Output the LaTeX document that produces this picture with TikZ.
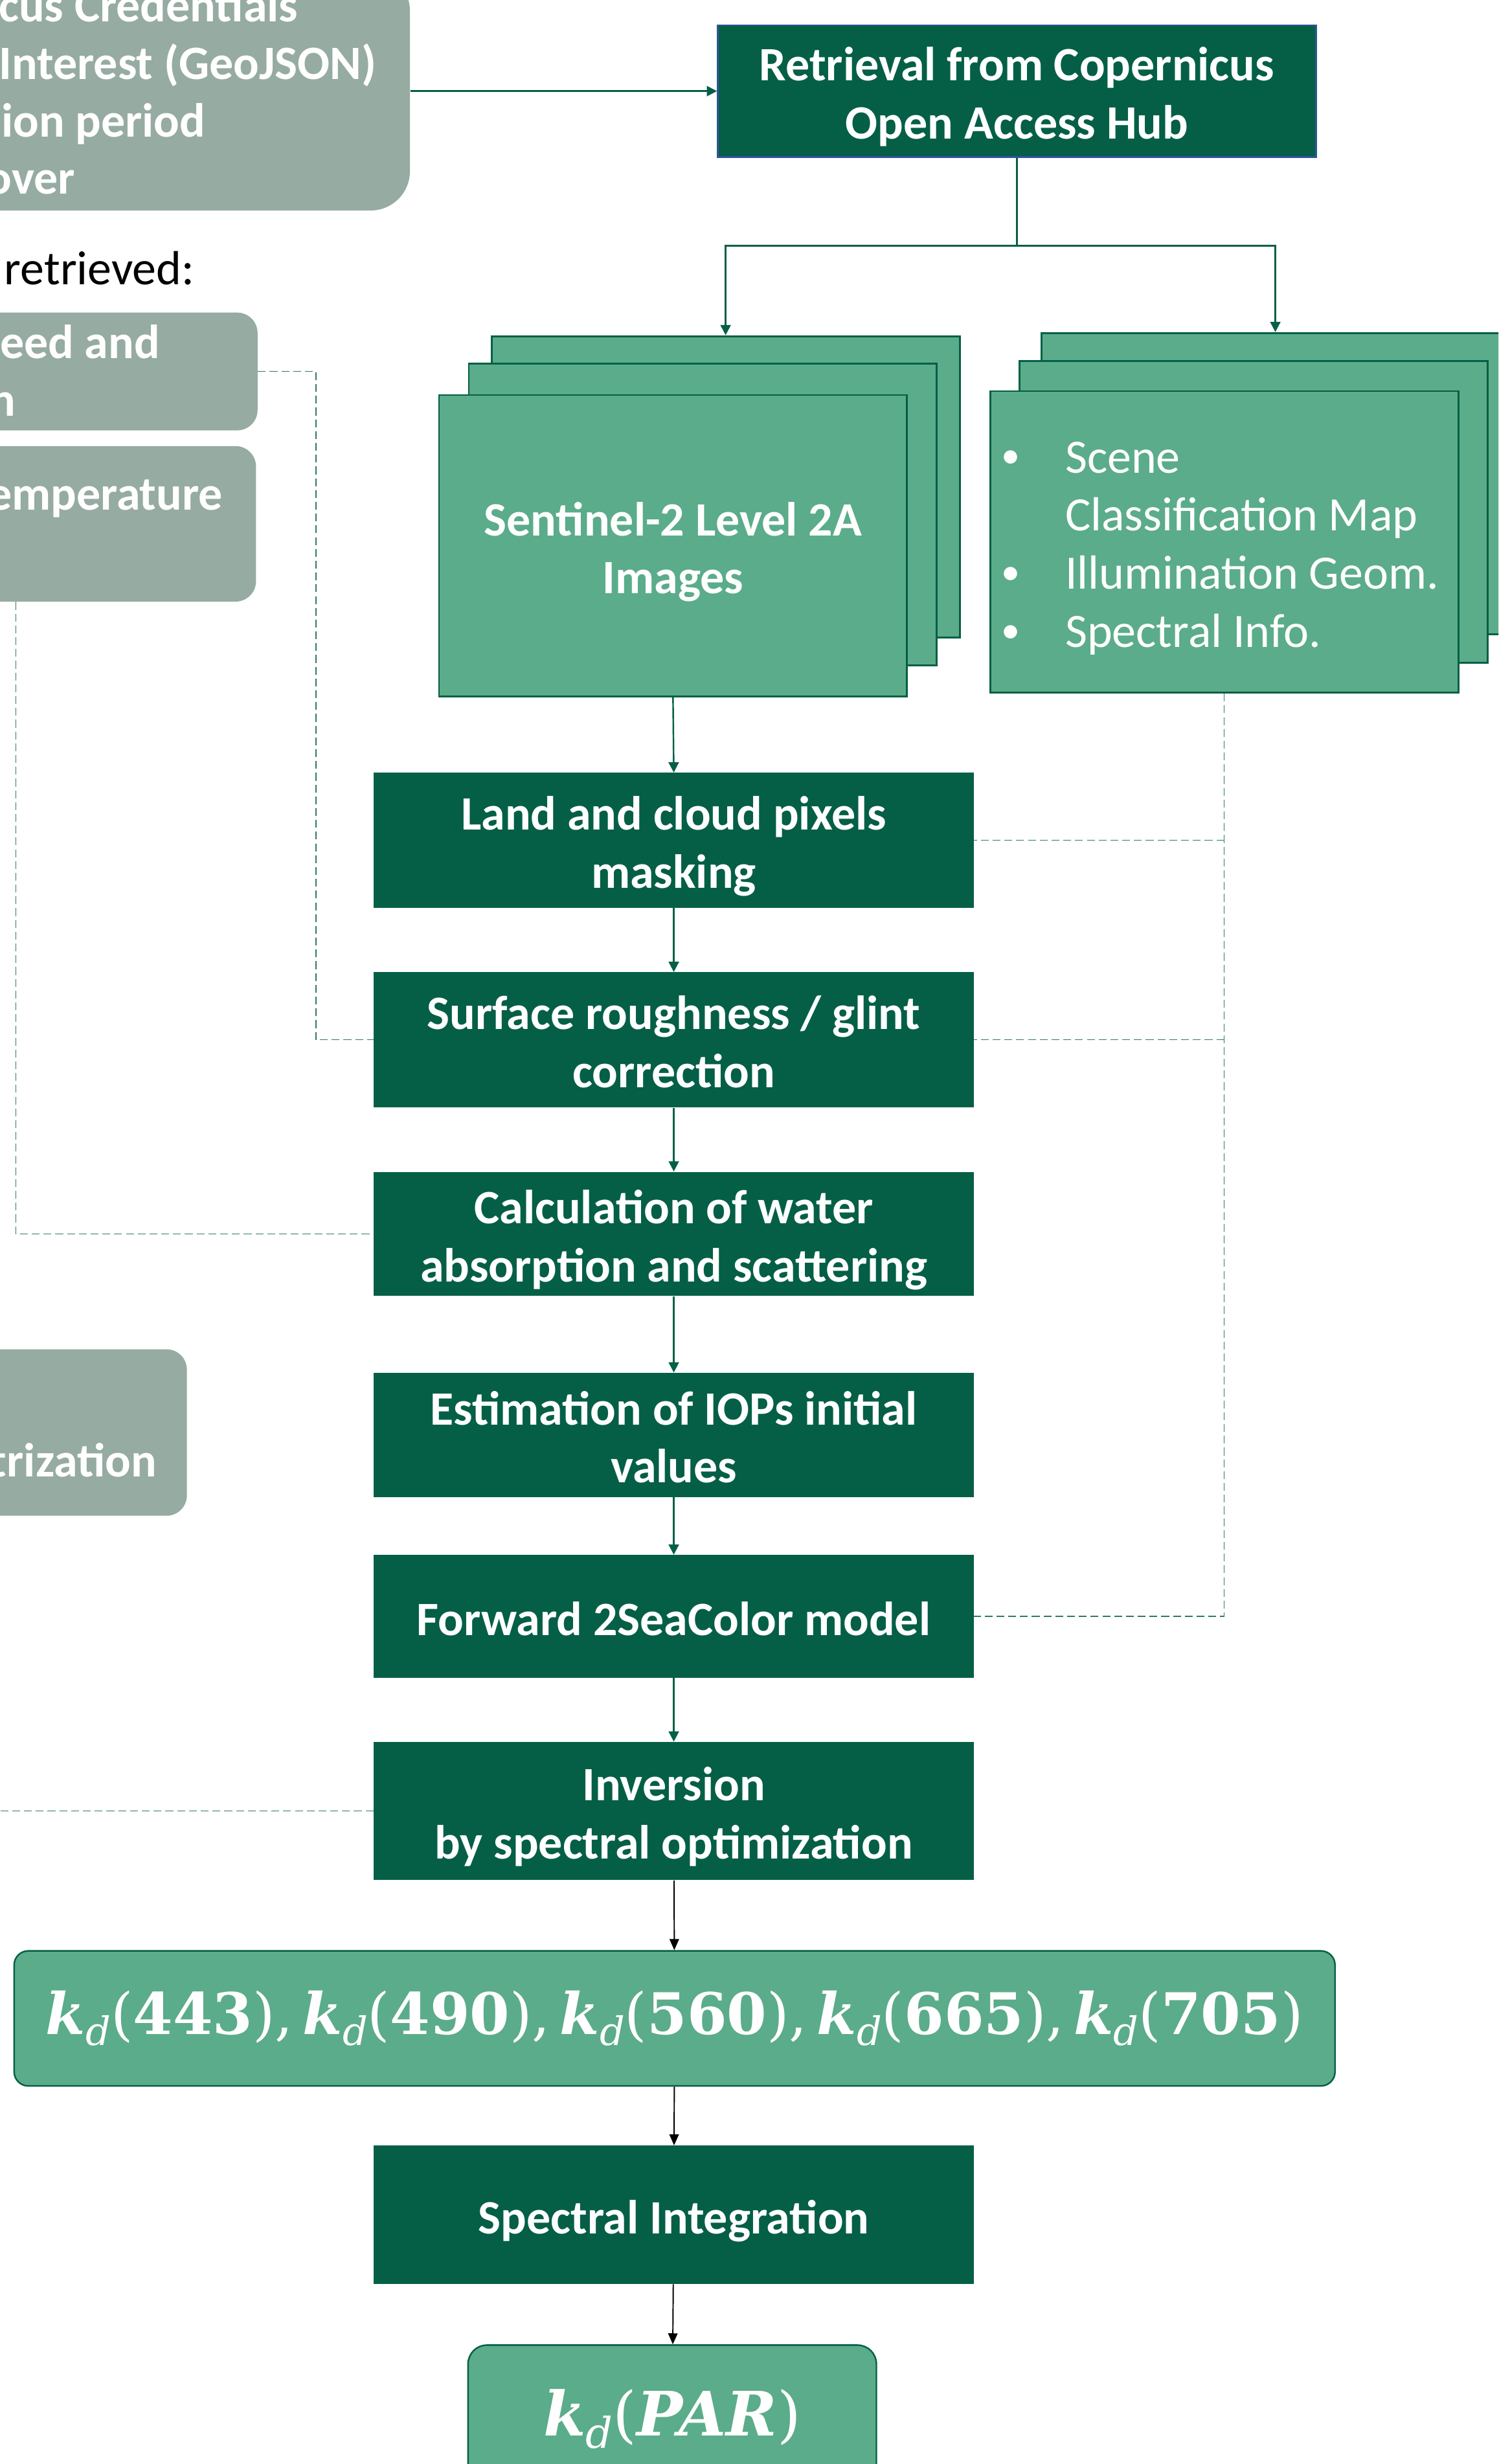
\documentclass[tikz,border=0pt]{standalone}
\usepackage[no-math]{fontspec}
\setmainfont{Carlito}
\newfontfamily\frmfont{DejaVu Serif}
\usetikzlibrary{arrows.meta,calc}
\definecolor{dkgreen}{HTML}{045F46}
\definecolor{mdgreen}{HTML}{5BAC8A}
\definecolor{grayg}{HTML}{96ABA1}
\definecolor{hubborder}{HTML}{2F5597}
\definecolor{dashc}{HTML}{2E7A62}
% struts that give every box text the same vertical metrics
\newcommand{\topstrut}{\rule{0pt}{32pt}}
\newcommand{\botstrut}{\rule[-8pt]{0pt}{0pt}}
\newcommand{\twol}[2]{\topstrut#1\\#2\botstrut}
\newcommand{\onel}[1]{\topstrut#1\botstrut}
% k_d written with text fonts: #1 = size of the subscript, #2 = its drop
\newcommand{\kdsym}[2]{{\bfseries\itshape k}\raisebox{-#2}{\fontsize{#1}{#1}\selectfont\itshape d}}
\newcommand{\kdseries}{\frmfont\fontsize{36.5}{44}\selectfont
  \kdsym{25}{7pt}(\textbf{443}),\,\kdsym{25}{7pt}(\textbf{490}),\,\kdsym{25}{7pt}(\textbf{560}),\,\kdsym{25}{7pt}(\textbf{665}),\,\kdsym{25}{7pt}(\textbf{705})}
\newcommand{\kdparfrm}{\frmfont\fontsize{39}{46}\selectfont \kdsym{27}{8pt}(\textbf{\textit{PAR}})}
\tikzset{
  mainbox/.style={rectangle, fill=dkgreen, draw=none, minimum width=382pt, text=white,
    font=\bfseries\fontsize{30.5}{37}\selectfont, align=center, inner sep=0pt},
  sheet/.style={rectangle, fill=mdgreen, draw=dkgreen, line width=1.2pt, inner sep=0pt,
    minimum width=298pt, minimum height=192pt},
  graybox/.style={rectangle, rounded corners=13pt, fill=grayg, draw=none, inner sep=0pt, minimum width=400pt},
  graytext/.style={text=white, font=\bfseries\fontsize{30.5}{37}\selectfont, inner sep=0pt, anchor=base east},
  plaintext/.style={text=black, font=\fontsize{30.5}{37}\selectfont, inner sep=0pt, anchor=base east},
  rtext/.style={text=white, font=\fontsize{30.5}{37}\selectfont, inner sep=0pt, anchor=base west},
  rbullet/.style={text=white, font=\fontsize{24}{24}\selectfont, inner sep=0pt, anchor=base},
  gconn/.style={draw=dkgreen, line width=1pt, -{Triangle[length=6.5pt,width=6.5pt]}},
  bconn/.style={draw=black, line width=0.8pt, -{Triangle[length=7pt,width=6pt]}},
  dconn/.style={draw=dashc, line width=0.6pt, dash pattern=on 5pt off 2.5pt},
  kdbox/.style={rectangle, rounded corners=9pt, fill=mdgreen, draw=dkgreen, line width=1pt, text=white, inner sep=0pt}
}
\begin{document}
\begin{tikzpicture}[x=1pt,y=-1pt]
\useasboundingbox (0,0) rectangle (954,1568.7);
\clip (0,0) rectangle (954,1568.7);

% helper coordinates
\coordinate (x10) at (10,0);
\coordinate (xleft) at (-5,0);

% left gray boxes (cut by the page edge, as in the reference)
\node[graybox, rounded corners=25pt, minimum height=152pt] (gbox1) at (61,58) {};
\node[graytext] (g1a) at (190,14) {cus Credentials};
\node[graytext] (g1b) at (240,50.5) {Interest (GeoJSON)};
\node[graytext] (g1c) at (131,87) {ion period};
\node[graytext] (g1d) at (48,123.5) {over};

\node[plaintext] (rettxt) at (124,181) {retrieved:};

\node[graybox, minimum height=75pt] (gbox2) at (-36,236.5) {};
\node[graytext] (g2a) at (102,228) {eed and};
\node[graytext] (g2b) at (10,265) {n};

\node[graybox, minimum height=99pt] (gbox3) at (-37,333.5) {};
\node[graytext] (g3a) at (142,324.5) {emperature};

\node[graybox, minimum height=106pt] (gbox4) at (-81,912) {};
\node[graytext] (g4a) at (100,940) {trization};

% retrieval
\node[mainbox, draw=hubborder, line width=1pt, minimum width=381pt, minimum height=84pt] (ret) at (647.5,58) {\twol{Retrieval from Copernicus}{Open Access Hub}};

% Sentinel-2 stack
\node[sheet] (s2back) at (462,310) {};
\node[sheet] (s2mid) at (447.5,327.5) {};
\node[sheet, text=white, font=\bfseries\fontsize{30.5}{37}\selectfont, align=center] (s2front) at (428.5,347.5) {\twol{Sentinel-2 Level 2A}{Images}};

% metadata stack
\node[sheet] (rback) at (812,308) {};
\node[sheet] (rmid) at (798,326) {};
\node[sheet] (rfront) at (779.5,345) {};
\node[rbullet] (rb1) at (643.5,298) {\textbullet};
\node[rtext] (rt1) at (678,301) {Scene};
\node[rtext] (rt2) at (678,338) {Classification Map};
\node[rbullet] (rb3) at (643.5,372) {\textbullet};
\node[rtext] (rt3) at (678,375) {Illumination Geom.};
\node[rbullet] (rb4) at (643.5,409) {\textbullet};
\node[rtext] (rt4) at (678,412) {Spectral Info.};

% main column
\node[mainbox, minimum height=86pt] (land) at (429,535) {\twol{Land and cloud pixels}{masking}};
\node[mainbox, minimum height=86pt] (surf) at (429,662) {\twol{Surface roughness / glint}{correction}};
\node[mainbox, minimum height=79pt] (calcb) at (429,785.5) {\twol{Calculation of water}{absorption and scattering}};
\node[mainbox, minimum height=79pt] (est) at (429,913.5) {\twol{Estimation of IOPs initial}{values}};
\node[mainbox, minimum height=78pt] (fwd) at (429,1029) {\onel{Forward 2SeaColor model}};
\node[mainbox, minimum height=88pt] (inv) at (429,1153) {\twol{Inversion}{by spectral optimization}};

\node[kdbox, minimum width=841pt, minimum height=86pt] (kdb) at (429.5,1285) {\kdseries};
\node[mainbox, minimum height=88pt] (spec) at (429,1410) {\onel{Spectral Integration}};
\node[kdbox, rounded corners=12pt, minimum width=260pt, minimum height=94pt] (par) at (428,1540) {\kdparfrm};

% solid connectors
\draw[gconn] (gbox1.east) -- (ret.west);
\draw[gconn] (ret.south) -- ++(0,56) -| (s2back.north);
\draw[gconn] (ret.south) -- ++(0,56) -| (rback.north);
\draw[gconn] (s2front.south) -- (land.north);
\draw[gconn] (land) -- (surf);
\draw[gconn] (surf) -- (calcb);
\draw[gconn] (calcb) -- (est);
\draw[gconn] (est) -- (fwd);
\draw[gconn] (fwd) -- (inv);
\draw[bconn] (inv) -- (kdb);
\draw[bconn] (kdb) -- (spec);
\draw[bconn] (spec) -- (par);

% dashed connectors
\draw[dconn] (gbox2.east) -- ++(37,0) |- (surf.west);
\draw[dconn] (gbox3.south -| x10) |- (calcb.west);
\draw[dconn] (rfront.south) |- (fwd.east);
\draw[dconn] (rfront.south |- land.east) -- (land.east);
\draw[dconn] (rfront.south |- surf.east) -- (surf.east);
\draw[dconn] (inv.west) -- (inv.west -| xleft);
\end{tikzpicture}
\end{document}
